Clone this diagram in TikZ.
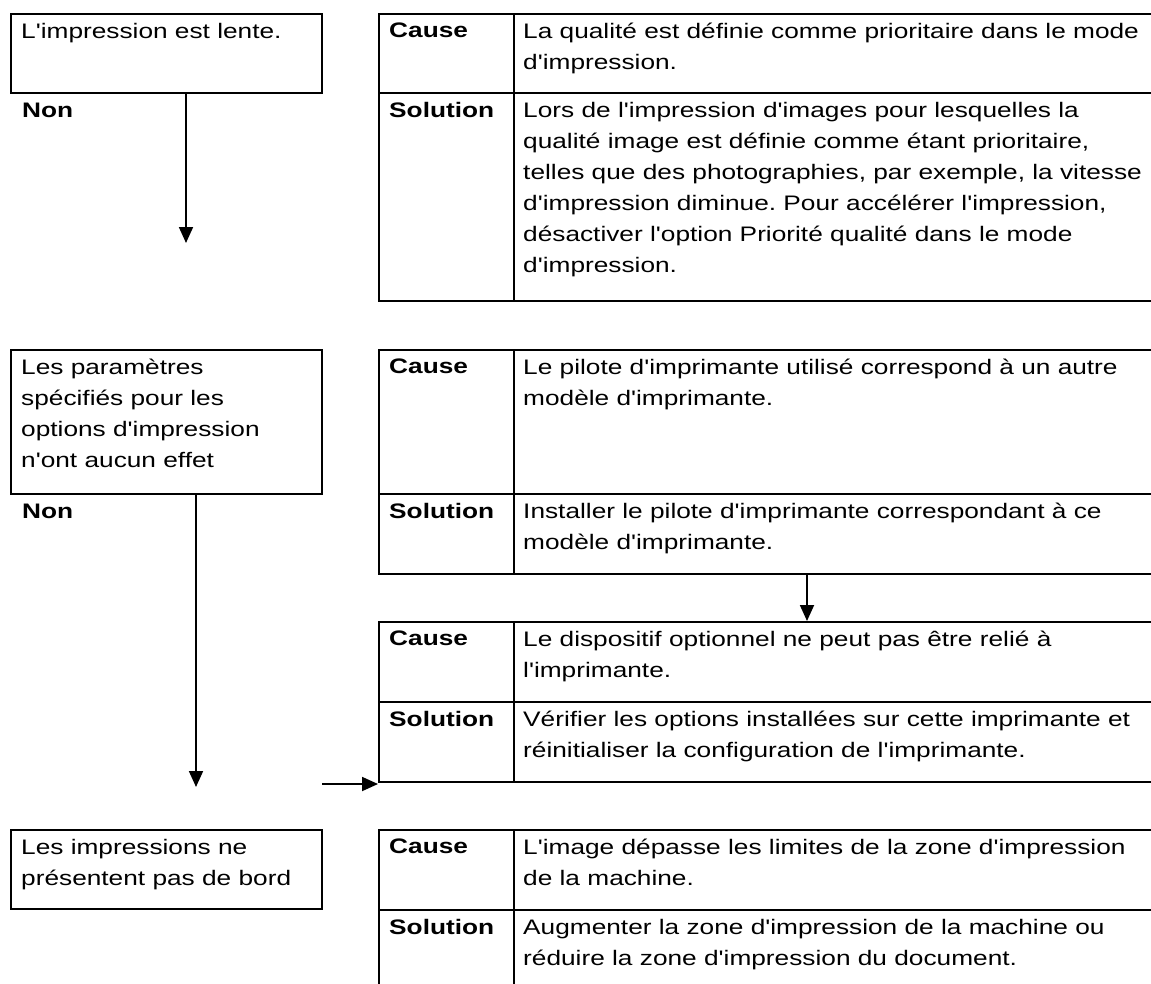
\documentclass[tikz,border=0pt]{standalone}
\usepackage{fontspec}
\setmainfont{Liberation Sans}[FakeStretch=1.25, Ligatures=TeXOff]
\usepackage{tikz}
\usetikzlibrary{arrows.meta}
\frenchspacing

\tikzset{
  cadre/.style={draw, line width=1.8pt, rectangle, inner sep=0pt, anchor=north west},
  texte/.style={anchor=north west, inner xsep=11pt, inner ysep=10pt, align=left,
    font=\fontsize{21}{31}\selectfont},
  gras/.style={texte, font=\fontsize{21}{31}\selectfont\bfseries},
  fleche/.style={line width=1.8pt, -{Triangle[width=14pt,length=16pt]}}
}

\begin{document}
\begin{tikzpicture}[x=1pt, y=-1pt]
				\useasboundingbox (0,0) rectangle (1151,983);
				% problemes (colonne de gauche)
				\node[cadre, minimum width=311pt, minimum height=79pt] (probleme1) at (10,13) {};
				\node[cadre, minimum width=311pt, minimum height=144pt] (probleme2) at (10,349) {};
				\node[cadre, minimum width=311pt, minimum height=79pt] (probleme3) at (10,829) {};
				\node[texte] (txtprobleme1) at (probleme1.north west) {L'impression est lente.};
				\node[texte] (txtprobleme2) at (probleme2.north west) {Les paramètres\\spécifiés pour les\\options d'impression\\n'ont aucun effet};
				\node[texte] (txtprobleme3) at (probleme3.north west) {Les impressions ne\\présentent pas de bord};
				\node[gras] (non1) at (11,93) {Non};
				\node[gras] (non2) at (11,494) {Non};
				% tableau 1
				\node[cadre, minimum width=135pt, minimum height=79pt] (cause1) at (378,13) {};
				\node[cadre, minimum width=639pt, minimum height=79pt] (causetxt1) at (513,13) {};
				\node[cadre, minimum width=135pt, minimum height=208pt] (solution1) at (378,92) {};
				\node[cadre, minimum width=639pt, minimum height=208pt] (solutiontxt1) at (513,92) {};
				\node[gras] (lcause1) at (cause1.north west) {Cause};
				\node[gras] (lsolution1) at (solution1.north west) {Solution};
				\node[texte, inner xsep=10pt] (tcause1) at (causetxt1.north west) {La qualité est définie comme prioritaire dans le mode\\d'impression.};
				\node[texte, inner xsep=10pt] (tsolution1) at (solutiontxt1.north west) {Lors de l'impression d'images pour lesquelles la\\qualité image est définie comme étant prioritaire,\\telles que des photographies, par exemple, la vitesse\\d'impression diminue. Pour accélérer l'impression,\\désactiver l'option Priorité qualité dans le mode\\d'impression.};
				% tableau 2
				\node[cadre, minimum width=135pt, minimum height=144pt] (cause2) at (378,349) {};
				\node[cadre, minimum width=639pt, minimum height=144pt] (causetxt2) at (513,349) {};
				\node[cadre, minimum width=135pt, minimum height=80pt] (solution2) at (378,493) {};
				\node[cadre, minimum width=639pt, minimum height=80pt] (solutiontxt2) at (513,493) {};
				\node[gras] (lcause2) at (cause2.north west) {Cause};
				\node[gras] (lsolution2) at (solution2.north west) {Solution};
				\node[texte, inner xsep=10pt] (tcause2) at (causetxt2.north west) {Le pilote d'imprimante utilisé correspond à un autre\\modèle d'imprimante.};
				\node[texte, inner xsep=10pt] (tsolution2) at (solutiontxt2.north west) {Installer le pilote d'imprimante correspondant à ce\\modèle d'imprimante.};
				% tableau 3
				\node[cadre, minimum width=135pt, minimum height=80pt] (cause3) at (378,621) {};
				\node[cadre, minimum width=639pt, minimum height=80pt] (causetxt3) at (513,621) {};
				\node[cadre, minimum width=135pt, minimum height=80pt] (solution3) at (378,701) {};
				\node[cadre, minimum width=639pt, minimum height=80pt] (solutiontxt3) at (513,701) {};
				\node[gras] (lcause3) at (cause3.north west) {Cause};
				\node[gras] (lsolution3) at (solution3.north west) {Solution};
				\node[texte, inner xsep=10pt] (tcause3) at (causetxt3.north west) {Le dispositif optionnel ne peut pas être relié à\\l'imprimante.};
				\node[texte, inner xsep=10pt] (tsolution3) at (solutiontxt3.north west) {Vérifier les options installées sur cette imprimante et\\réinitialiser la configuration de l'imprimante.};
				% tableau 4
				\node[cadre, minimum width=135pt, minimum height=80pt] (cause4) at (378,829) {};
				\node[cadre, minimum width=639pt, minimum height=80pt] (causetxt4) at (513,829) {};
				\node[cadre, minimum width=135pt, minimum height=120pt] (solution4) at (378,909) {};
				\node[cadre, minimum width=639pt, minimum height=120pt] (solutiontxt4) at (513,909) {};
				\node[gras] (lcause4) at (cause4.north west) {Cause};
				\node[gras] (lsolution4) at (solution4.north west) {Solution};
				\node[texte, inner xsep=10pt] (tcause4) at (causetxt4.north west) {L'image dépasse les limites de la zone d'impression\\de la machine.};
				\node[texte, inner xsep=10pt] (tsolution4) at (solutiontxt4.north west) {Augmenter la zone d'impression de la machine ou\\réduire la zone d'impression du document.};
				% fleches
				\coordinate (fin1) at (186,243);
				\coordinate (fin2) at (196,787);
				\coordinate (depart3) at (807,573);
				\coordinate (origine4) at (322,784);
				\draw[fleche] (fin1 |- probleme1.south) -- (fin1);
				\draw[fleche] (fin2 |- probleme2.south) -- (fin2);
				\draw[fleche] (depart3) -- (depart3 |- causetxt3.north);
				\draw[fleche] (origine4) -- (origine4 -| solution3.west);
		\end{tikzpicture}
\end{document}
